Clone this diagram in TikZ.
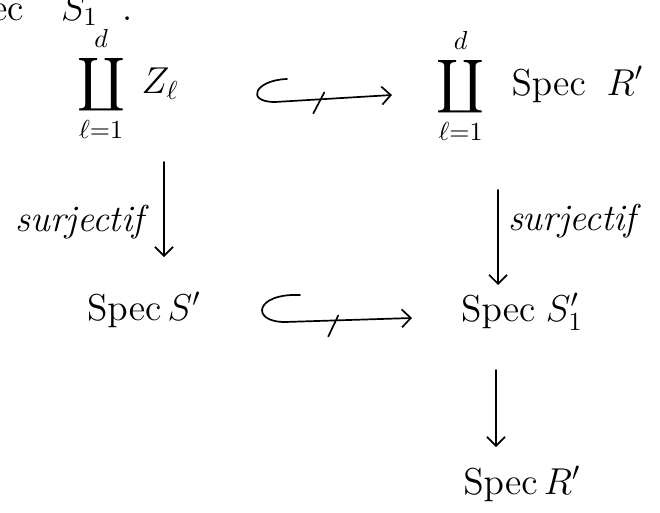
\documentclass[tikz,border=0pt]{standalone}
\usepackage{amsmath}
\usetikzlibrary{arrows.meta,calc}
\begin{document}
\begin{tikzpicture}[x=1pt,y=-1pt,
  obj/.style={inner sep=1pt, font=\Large, scale=2.6},
  lbl/.style={inner sep=1pt, font=\Large\itshape, scale=2.6},
  pen/.style={line width=1.7pt, line cap=round, line join=round},
  map/.style={pen, -{Straight Barb[length=9pt,width=18pt,line width=1.7pt]}}]
  \useasboundingbox (0,0) rectangle (660,512);
  \clip (0,0) rectangle (660,512);

  % tail of the preceding line
  \node[obj, anchor=base west] (prev) at (-12,20) {ec\quad$S_1$\ \ .};

  % objects
  \node[obj] (A) at (128,84) {$\displaystyle\coprod_{\ell=1}^{d}\; Z_\ell$};
  \node[obj] (B) at (540,86) {$\displaystyle\coprod_{\ell=1}^{d}\;\; \mathrm{Spec}\;\;R'$};
  \node[obj] (C) at (144,310) {$\mathrm{Spec}\,S'$};
  \node[obj] (D) at (522,312) {$\mathrm{Spec}\;S'_1$};
  \node[obj] (E) at (522,484) {$\mathrm{Spec}\,R'$};

  % closed immersions: hooked tail, then a shaft crossed by a small stroke
  \draw[map] ($(A)+(159,-5)$) .. controls ($(A)+(127,-4)$) and ($(A)+(117,18)$)
    .. ($(A)+(147,18)$) -- ($(B)+(-148,9)$) coordinate[pos=0.37] (t1);
  \draw[pen] ($(t1)+(-5,14)$) -- ($(t1)+(6,-7)$);
  \draw[map] ($(C)+(156,-15)$) .. controls ($(C)+(111,-17)$) and ($(C)+(106,12)$)
    .. ($(C)+(141,12)$) -- ($(D)+(-110,6)$) coordinate[pos=0.38] (t2);
  \draw[pen] ($(t2)+(-5,16)$) -- ($(t2)+(5,-5)$);

  % vertical maps
  \draw[map] ($(A)+(36,78)$) -- ($(C)+(20,-53)$)
    node[lbl, midway, left, xshift=-6pt, yshift=-5pt] {surjectif};
  \draw[map] ($(B)+(-42,104)$) -- ($(D)+(-24,-27)$)
    node[lbl, pos=0.33, right, xshift=2pt] {surjectif};
  \draw[map] ($(D)+(-26,58)$) -- ($(E)+(-26,-37)$);
\end{tikzpicture}
\end{document}
